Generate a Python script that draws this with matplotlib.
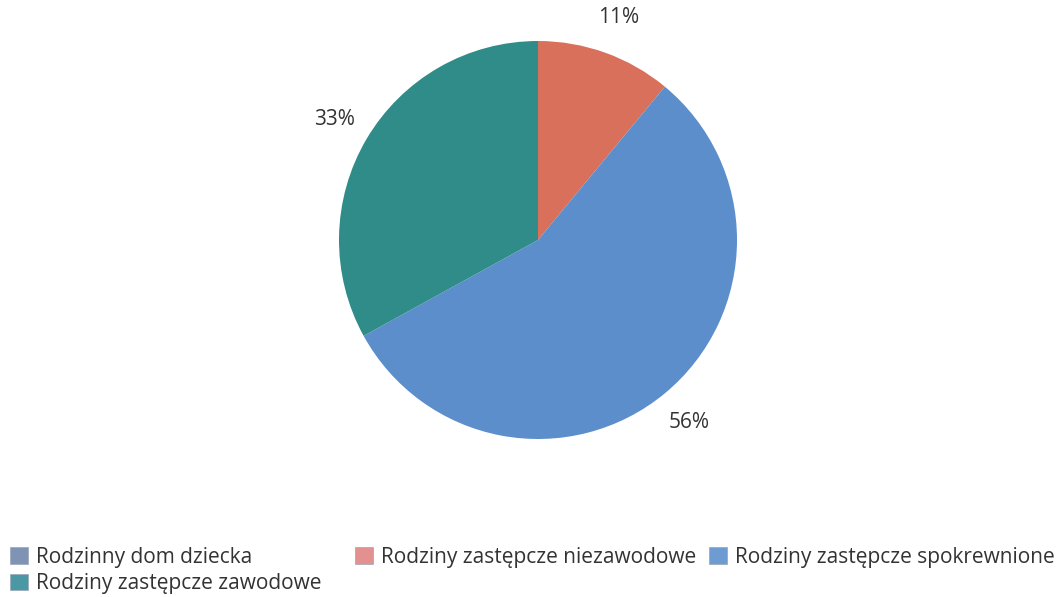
import matplotlib.pyplot as plt
from matplotlib.patches import Patch

plt.rcParams["font.family"] = ["Open Sans", "DejaVu Sans"]

# data (share of children, %)
categories = [
    "Rodzinny dom dziecka",
    "Rodziny zastępcze niezawodowe",
    "Rodziny zastępcze spokrewnione",
    "Rodziny zastępcze zawodowe",
]
values = [0, 11, 56, 33]
colors = ["#7b90b2", "#d8705b", "#5b8ecb", "#2f8c89"]
legend_colors = ["#7f93b5", "#e39090", "#6f9bd3", "#4a98a6"]

W, H = 1057, 597
fig = plt.figure(figsize=(W / 100, H / 100), dpi=100)

cx, cy, r = 538, 240, 199
ax = fig.add_axes([(cx - r) / W, (H - cy - r) / H, 2 * r / W, 2 * r / H])

wedges, texts, autotexts = ax.pie(
    values,
    colors=colors,
    startangle=90,
    counterclock=False,
    autopct=lambda p: f"{p:.0f}%" if p > 0.5 else "",
    pctdistance=1.19,
    wedgeprops=dict(linewidth=0),
    textprops=dict(fontsize=15, color="#333333"),
)
ax.set_xlim(-1, 1)
ax.set_ylim(-1, 1)
ax.set_aspect("equal")

# legend laid out in rows like the original
groups = [([0, 3], 10), ([1], 355), ([2], 709)]
for idx, x in groups:
    handles = [Patch(facecolor=legend_colors[i], edgecolor="#9aa5b5", linewidth=0.5) for i in idx]
    labs = [categories[i] for i in idx]
    fig.legend(
        handles, labs,
        loc="upper left",
        bbox_to_anchor=(x / W, 1 - 547 / H),
        frameon=False,
        fontsize=15,
        handlelength=0.85,
        handleheight=0.85,
        handletextpad=0.4,
        labelspacing=0.25,
        borderpad=0,
        borderaxespad=0,
        labelcolor="#333333",
    )

fig.savefig("out.png", dpi=100)
